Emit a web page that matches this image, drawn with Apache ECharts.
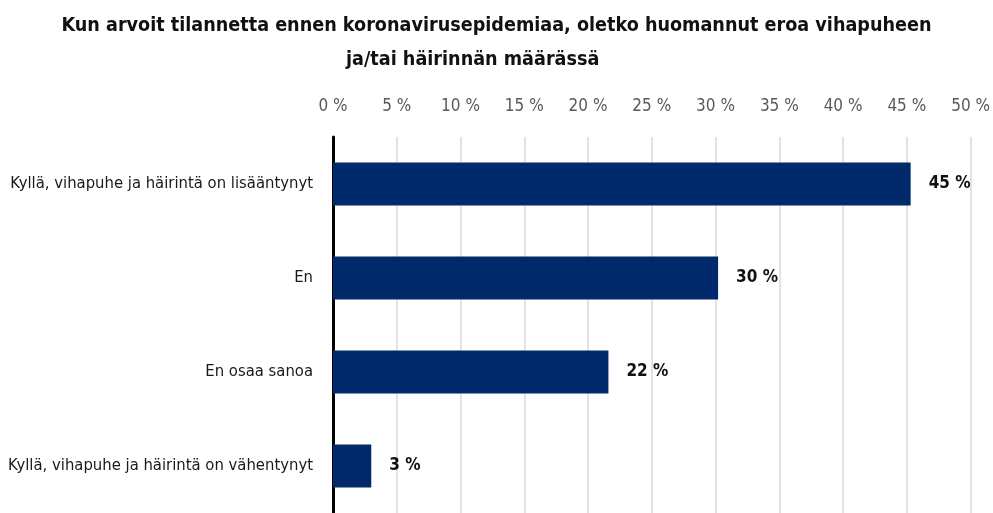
<!DOCTYPE html>
<html>
<head>
<meta charset="utf-8">
<script src="https://cdn.jsdelivr.net/npm/echarts@6/dist/echarts.min.js"></script>
<style>
  html, body { margin: 0; padding: 0; background: #fff; }
  #chart { width: 993px; height: 513px; }
</style>
</head>
<body>
<div id="chart"></div>
<script>
// vastausvaihtoehdot ja osuudet (%)
const categories = [
  'Kyllä, vihapuhe ja häirintä on lisääntynyt',
  'En',
  'En osaa sanoa',
  'Kyllä, vihapuhe ja häirintä on vähentynyt'
];
const values = [45.3, 30.2, 21.6, 3.0];

const font = "'DejaVu Sans Condensed', 'Liberation Sans Narrow', sans-serif";

const chart = echarts.init(document.getElementById('chart'));
chart.setOption({
  animation: false,
  textStyle: {fontFamily: font},
  title: [
    {
      text: 'Kun arvoit tilannetta ennen koronavirusepidemiaa, oletko huomannut eroa vihapuheen',
      left: 'center',
      top: 11,
      textStyle: {fontFamily: font, fontSize: 19.6, fontWeight: 'bold', color: '#111'}
    },
    {
      text: 'ja/tai häirinnän määrässä',
      left: 341,
      top: 45,
      textStyle: {fontFamily: font, fontSize: 19.6, fontWeight: 'bold', color: '#111'}
    }
  ],
  grid: {
    left: 333,
    right: 22,
    top: 137,
    bottom: -3,
    containLabel: false
  },
  xAxis: {
    type: 'value',
    position: 'top',
    min: 0,
    max: 50,
    interval: 5,
    axisLine: {show: false},
    axisTick: {show: false},
    axisLabel: {
      margin: 22,
      fontFamily: font,
      fontSize: 17,
      color: '#595959',
      formatter: v => v + ' %'
    },
    splitLine: {lineStyle: {color: '#d9d9d9', width: 1.5}}
  },
  yAxis: {
    type: 'category',
    inverse: true,
    data: categories,
    axisLine: {lineStyle: {color: '#000', width: 3}},
    axisTick: {show: false},
    axisLabel: {
      margin: 20,
      fontFamily: font,
      fontSize: 16.5,
      color: '#1a1a1a'
    }
  },
  series: [
    {
      type: 'bar',
      data: values,
      barWidth: 43,
      itemStyle: {color: '#002a6c'},
      label: {
        show: true,
        position: 'right',
        distance: 18,
        fontFamily: font,
        fontSize: 17,
        fontWeight: 'bold',
        color: '#111',
        formatter: p => Math.round(p.value) + ' %'
      }
    }
  ]
});
</script>
</body>
</html>
